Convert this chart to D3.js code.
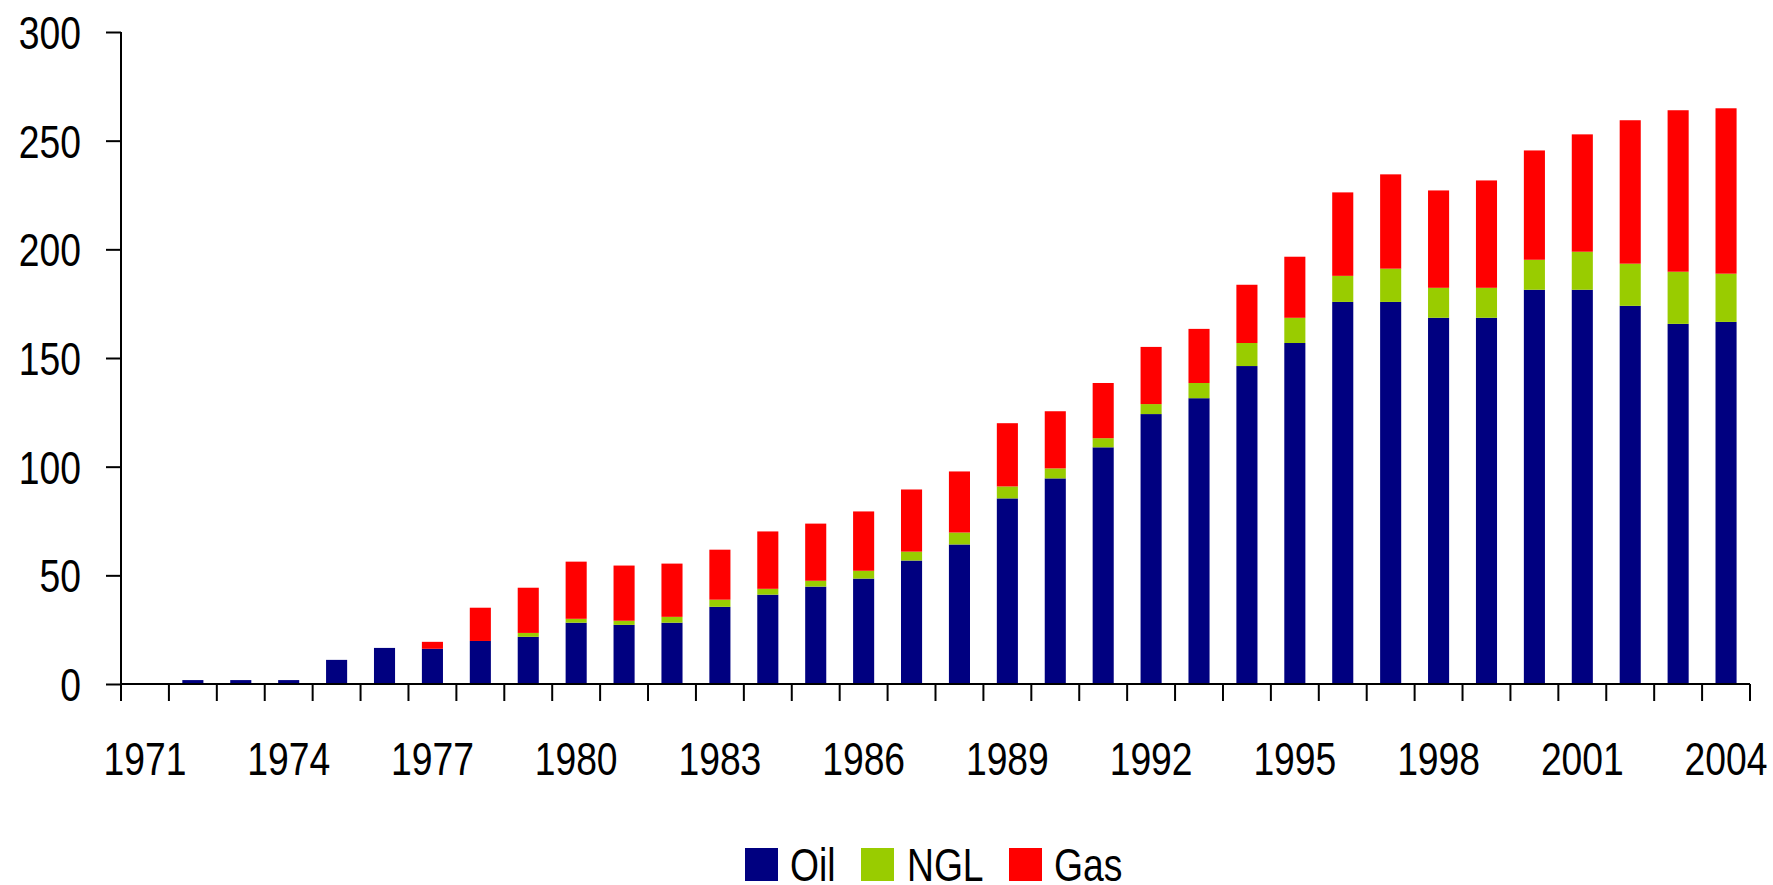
<!DOCTYPE html>
<html>
<head>
<meta charset="utf-8">
<script src="https://cdn.jsdelivr.net/npm/d3@7"></script>
<style>
  html, body { margin: 0; padding: 0; background: #fff; }
  svg { display: block; }
  text { font-family: "Liberation Sans", Arial, sans-serif; font-size: 46px; fill: #000; }
</style>
</head>
<body>
<svg id="chart" width="1773" height="885"></svg>
<script>
// Production by year, stacked: crude oil, natural gas liquids, gas
const years = d3.range(1971, 2005);
const oil = [0, 1.8, 1.8, 1.8, 11.1, 16.6, 16.2, 19.8, 21.7, 28.2,
             27.2, 28.2, 35.5, 41.1, 44.8, 48.5, 56.8, 64.2, 85.4, 94.6,
             108.9, 124.2, 131.5, 146.3, 156.9, 175.8, 175.8, 168.5, 168.5, 181.4,
             181.4, 174.0, 165.7, 166.6];
const ngl = [0, 0, 0, 0, 0, 0, 0, 0, 1.8, 1.8,
             1.9, 2.7, 3.3, 2.7, 2.7, 3.6, 4.1, 5.5, 5.5, 4.6,
             4.2, 4.6, 7.0, 10.6, 11.6, 12.0, 15.3, 13.8, 13.8, 13.8,
             17.5, 19.4, 24.0, 22.2];
const gas = [0, 0, 0, 0, 0, 0, 3.2, 15.3, 20.8, 26.3,
             25.4, 24.5, 23.0, 26.4, 26.3, 27.3, 28.6, 28.1, 29.1, 26.3,
             25.4, 26.3, 24.9, 26.8, 28.1, 38.4, 43.4, 44.8, 49.4, 50.3,
             54.0, 66.0, 74.3, 76.1];
const seriesNames = ["Oil", "NGL", "Gas"];
const seriesColors = ["#000080", "#99CC00", "#FF0000"];
const yTicks = [0, 50, 100, 150, 200, 250, 300];
const xLabelYears = d3.range(1971, 2005, 3);

const rows = years.map((yr, i) => ({ year: yr, Oil: oil[i], NGL: ngl[i], Gas: gas[i] }));
const stacked = d3.stack().keys(seriesNames)(rows);

const svg = d3.select("#chart");
const plotLeft = 121, plotRight = 1750, plotTop = 32, plotBottom = 684;
const narrow = 0.81; // horizontal squeeze giving a condensed type face

const x = d3.scaleBand().domain(years).range([plotLeft, plotRight]).padding(0);
const y = d3.scaleLinear().domain([0, 300]).range([plotBottom, plotTop]);
const color = d3.scaleOrdinal().domain(seriesNames).range(seriesColors);

const barW = x.bandwidth() * 0.44;

// condensed text placed at (tx, ty)
function label(parent, tx, ty, str, anchor) {
  return parent.append("text")
    .attr("transform", `translate(${tx},${ty}) scale(${narrow},1)`)
    .attr("text-anchor", anchor)
    .text(str);
}

// stacked bars
svg.append("g").selectAll("g")
  .data(stacked).join("g")
  .attr("fill", d => color(d.key))
  .selectAll("rect")
  .data(d => d).join("rect")
  .attr("x", d => x(d.data.year) + (x.bandwidth() - barW) / 2)
  .attr("width", barW)
  .attr("y", d => y(d[1]))
  .attr("height", d => y(d[0]) - y(d[1]));

// value axis
const yAxis = svg.append("g")
  .attr("transform", `translate(${plotLeft},0)`)
  .call(d3.axisLeft(y).tickValues(yTicks).tickSize(15).tickFormat(d3.format("d")));
yAxis.select(".domain").attr("stroke", "#000").attr("stroke-width", 2)
  .attr("d", `M0,${y(300)}V${y(0)}`);
yAxis.selectAll(".tick line").attr("stroke", "#000").attr("stroke-width", 2);
yAxis.selectAll(".tick text")
  .attr("x", 0).attr("dy", "0.36em")
  .attr("font-size", null).attr("font-family", null)
  .attr("fill", "#000")
  .attr("transform", `translate(-40,0) scale(${narrow},1)`);

// category axis: baseline, ticks between categories, labels every third year
const xg = svg.append("g");
xg.append("line")
  .attr("x1", plotLeft).attr("x2", plotRight)
  .attr("y1", y(0)).attr("y2", y(0))
  .attr("stroke", "#000").attr("stroke-width", 2);
const boundaries = years.map(yr => x(yr)).concat([x(years[years.length - 1]) + x.bandwidth()]);
xg.selectAll("line.tk").data(boundaries).join("line")
  .attr("class", "tk")
  .attr("x1", d => d).attr("x2", d => d)
  .attr("y1", y(0)).attr("y2", y(0) + 17)
  .attr("stroke", "#000").attr("stroke-width", 2);
xLabelYears.forEach(yr => label(xg, x(yr) + x.bandwidth() / 2, 775, yr, "middle"));

// legend
const legendItems = [
  { name: "Oil", sx: 745, tx: 790 },
  { name: "NGL", sx: 861, tx: 907 },
  { name: "Gas", sx: 1009, tx: 1054 }
];
const lg = svg.append("g");
lg.selectAll("rect").data(legendItems).join("rect")
  .attr("x", d => d.sx).attr("y", 848)
  .attr("width", 33).attr("height", 33)
  .attr("fill", d => color(d.name));
legendItems.forEach(d => label(lg, d.tx, 881, d.name, "start"));
</script>
</body>
</html>
